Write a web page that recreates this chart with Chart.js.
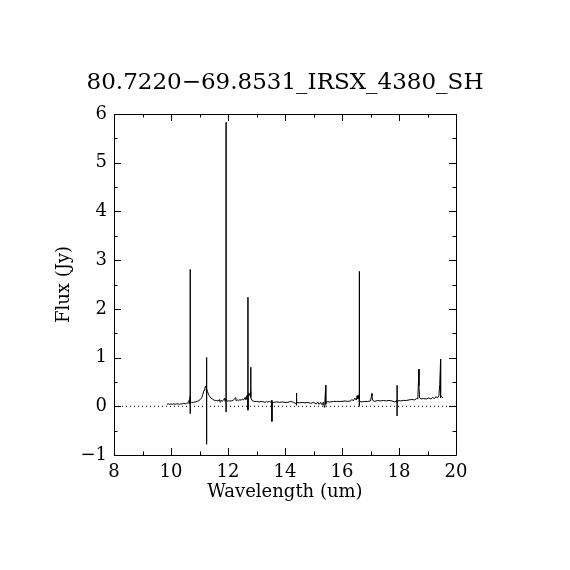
<!DOCTYPE html>
<html>
<head>
<meta charset="utf-8">
<script src="https://cdn.jsdelivr.net/npm/chart.js@4.4.1/dist/chart.umd.min.js"></script>
<style>
  html, body { margin: 0; padding: 0; background: #fff; }
  #wrap { width: 570px; height: 570px; }
</style>
</head>
<body>
<div id="wrap"><canvas id="spectrumChart" width="570" height="570"></canvas></div>
<script>
// Spectrum (wavelength in um, flux in Jy)
const wavelength = [
    9.86, 9.90, 9.95, 10.00, 10.05, 10.10, 10.15, 10.20, 10.25, 10.30,
    10.35, 10.40, 10.45, 10.50, 10.55, 10.60, 10.63, 10.65, 10.67, 10.67,
    10.67, 10.67, 10.69, 10.72, 10.78, 10.85, 10.92, 10.98, 11.03, 11.08,
    11.12, 11.16, 11.19, 11.21, 11.25, 11.25, 11.25, 11.25, 11.28, 11.32,
    11.36, 11.40, 11.45, 11.50, 11.55, 11.60, 11.65, 11.70, 11.72, 11.75,
    11.80, 11.85, 11.88, 11.90, 11.93, 11.93, 11.93, 11.94, 11.98, 12.05,
    12.12, 12.18, 12.27, 12.29, 12.33, 12.38, 12.42, 12.46, 12.50, 12.55,
    12.60, 12.63, 12.66, 12.70, 12.70, 12.70, 12.71, 12.74, 12.80, 12.80,
    12.80, 12.82, 12.86, 12.92, 13.00, 13.10, 13.20, 13.30, 13.35, 13.40,
    13.45, 13.50, 13.54, 13.54, 13.55, 13.60, 13.70, 13.80, 13.90, 14.00,
    14.10, 14.20, 14.30, 14.40, 14.40, 14.40, 14.42, 14.50, 14.60, 14.70,
    14.80, 14.90, 15.00, 15.10, 15.15, 15.20, 15.25, 15.30, 15.35, 15.38,
    15.40, 15.43, 15.43, 15.46, 15.50, 15.60, 15.70, 15.80, 15.90, 16.00,
    16.10, 16.20, 16.30, 16.35, 16.40, 16.45, 16.50, 16.53, 16.56, 16.60,
    16.60, 16.60, 16.61, 16.63, 16.70, 16.80, 16.90, 17.00, 17.05, 17.05,
    17.08, 17.15, 17.25, 17.35, 17.45, 17.55, 17.65, 17.75, 17.85, 17.93,
    17.93, 17.93, 17.94, 17.98, 18.05, 18.15, 18.25, 18.35, 18.45, 18.55,
    18.62, 18.66, 18.70, 18.70, 18.72, 18.78, 18.85, 18.95, 19.05, 19.12,
    19.18, 19.25, 19.30, 19.35, 19.40, 19.43, 19.46, 19.46, 19.50, 19.55
];
const flux = [
    0.04, 0.05, 0.04, 0.05, 0.04, 0.05, 0.04, 0.05, 0.05, 0.04,
    0.05, 0.05, 0.06, 0.05, 0.06, 0.07, 0.12, 0.05, 0.20, 2.81,
    -0.15, 0.25, 0.08, 0.08, 0.08, 0.09, 0.10, 0.12, 0.14, 0.18,
    0.25, 0.33, 0.38, 0.41, 0.35, 1.00, -0.78, 0.36, 0.30, 0.24,
    0.20, 0.17, 0.15, 0.13, 0.12, 0.12, 0.11, 0.14, 0.09, 0.12,
    0.11, 0.13, 0.17, 0.10, 0.15, 5.83, -0.12, 0.12, 0.11, 0.11,
    0.11, 0.12, 0.18, 0.11, 0.13, 0.12, 0.14, 0.12, 0.15, 0.13,
    0.18, 0.14, 0.22, 0.16, 2.24, -0.08, 0.27, 0.22, 0.30, 0.80,
    0.18, 0.15, 0.11, 0.10, 0.10, 0.09, 0.10, 0.08, 0.10, 0.08,
    0.11, 0.08, 0.12, -0.31, 0.09, 0.08, 0.09, 0.08, 0.09, 0.08,
    0.08, 0.10, 0.08, 0.05, 0.27, 0.02, 0.08, 0.07, 0.08, 0.07,
    0.08, 0.06, 0.08, 0.05, 0.09, 0.04, 0.08, 0.03, 0.09, -0.02,
    0.10, 0.43, 0.04, 0.10, 0.09, 0.09, 0.10, 0.10, 0.10, 0.10,
    0.11, 0.10, 0.11, 0.14, 0.11, 0.17, 0.13, 0.22, 0.15, 0.24,
    2.77, 0.00, 0.20, 0.10, 0.09, 0.10, 0.10, 0.11, 0.26, 0.20,
    0.12, 0.10, 0.12, 0.11, 0.12, 0.11, 0.12, 0.11, 0.09, 0.12,
    0.43, -0.20, 0.08, 0.12, 0.11, 0.12, 0.12, 0.13, 0.14, 0.13,
    0.16, 0.15, 0.76, 0.42, 0.18, 0.15, 0.16, 0.15, 0.17, 0.15,
    0.18, 0.16, 0.20, 0.17, 0.22, 0.45, 0.97, 0.18, 0.20, 0.17
];

// Axis ranges and ticks
const xRange = [8, 20];
const yRange = [-1, 6];
const xMajorTicks = [8, 10, 12, 14, 16, 18, 20];
const xMinorTicks = [9, 11, 13, 15, 17, 19];
const yMajorTicks = [-1, 0, 1, 2, 3, 4, 5, 6];
const yMinorTicks = [-0.5, 0.5, 1.5, 2.5, 3.5, 4.5, 5.5];
const zeroLevel = 0;

const serif = '"DejaVu Serif", "Liberation Serif", serif';

// Box frame and inward tick marks (PGPLOT look)
const frameTicks = {
    id: 'frameTicks',
    afterDraw(chart) {
        const { ctx, chartArea: a, scales: { x, y } } = chart;
        ctx.save();
        ctx.strokeStyle = '#000';
        ctx.lineWidth = 1;
        ctx.beginPath();
        ctx.rect(Math.round(a.left) + 0.5, Math.round(a.top) + 0.5,
            Math.round(a.right - a.left), Math.round(a.bottom - a.top));
        const xTick = (v, len) => {
            const px = Math.round(x.getPixelForValue(v)) + 0.5;
            ctx.moveTo(px, a.bottom); ctx.lineTo(px, a.bottom - len);
            ctx.moveTo(px, a.top); ctx.lineTo(px, a.top + len);
        };
        const yTick = (v, len) => {
            const py = Math.round(y.getPixelForValue(v)) + 0.5;
            ctx.moveTo(a.left, py); ctx.lineTo(a.left + len, py);
            ctx.moveTo(a.right, py); ctx.lineTo(a.right - len, py);
        };
        xMajorTicks.forEach(v => xTick(v, 7));
        xMinorTicks.forEach(v => xTick(v, 3.5));
        yMajorTicks.forEach(v => yTick(v, 7));
        yMinorTicks.forEach(v => yTick(v, 3.5));
        ctx.stroke();
        ctx.restore();
    }
};

const ctx = document.getElementById('spectrumChart').getContext('2d');
new Chart(ctx, {
    type: 'line',
    data: {
        datasets: [{
            label: 'Flux',
            data: wavelength.map((w, i) => ({ x: w, y: flux[i] })),
            borderColor: '#000',
            borderWidth: 1,
            pointRadius: 0,
            tension: 0
        }, {
            label: 'Zero',
            data: xRange.map(w => ({ x: w, y: zeroLevel })),
            borderColor: '#000',
            borderWidth: 1,
            borderDash: [1, 3],
            pointRadius: 0
        }]
    },
    options: {
        responsive: false,
        animation: false,
        layout: { padding: 0 },
        plugins: {
            legend: { display: false },
            tooltip: { enabled: false },
            title: {
                display: true,
                text: '80.7220\u221269.8531_IRSX_4380_SH',
                color: '#000',
                font: { family: serif, size: 23, weight: 'normal' },
                padding: { top: 69, bottom: 17.4 }
            }
        },
        scales: {
            x: {
                type: 'linear',
                min: xRange[0],
                max: xRange[1],
                grid: { display: false, drawTicks: false },
                border: { display: false },
                afterFit: s => { s.height = 115; },
                afterBuildTicks: s => { s.ticks = xMajorTicks.map(v => ({ value: v })); },
                ticks: {
                    color: '#000',
                    padding: 7,
                    maxRotation: 0,
                    font: { family: serif, size: 18 }
                },
                title: {
                    display: true,
                    text: 'Wavelength (um)',
                    color: '#000',
                    font: { family: serif, size: 18 },
                    padding: { top: 0, bottom: 67 }
                }
            },
            y: {
                type: 'linear',
                min: yRange[0],
                max: yRange[1],
                grid: { display: false, drawTicks: false },
                border: { display: false },
                afterFit: s => { s.width = 114; },
                afterBuildTicks: s => { s.ticks = yMajorTicks.map(v => ({ value: v })); },
                ticks: {
                    color: '#000',
                    padding: 7,
                    font: { family: serif, size: 18 },
                    callback: v => (v < 0 ? '\u2212' + Math.abs(v) : String(v))
                },
                title: {
                    display: true,
                    text: 'Flux (Jy)',
                    color: '#000',
                    font: { family: serif, size: 18 },
                    padding: { top: 54, bottom: 0 }
                }
            },
            // empty right-hand axis that only reserves the margin
            yRight: {
                type: 'linear',
                position: 'right',
                min: yRange[0],
                max: yRange[1],
                grid: { display: false, drawTicks: false },
                border: { display: false },
                ticks: { display: false },
                afterFit: s => { s.width = 114; }
            }
        }
    },
    plugins: [frameTicks]
});
</script>
</body>
</html>
